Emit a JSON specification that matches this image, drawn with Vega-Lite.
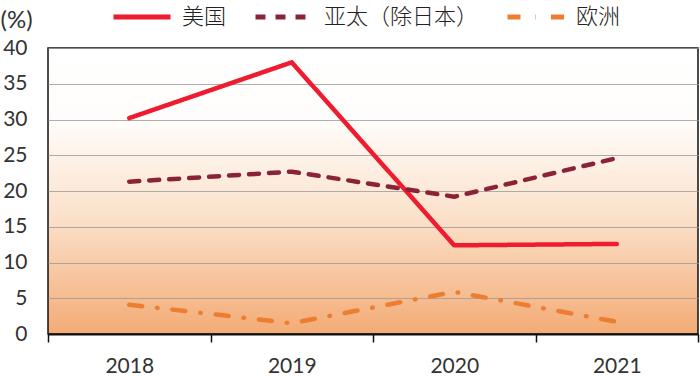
{
  "$schema": "https://vega.github.io/schema/vega-lite/v6.json",
  "width": 650,
  "height": 286,
  "autosize": "none",
  "padding": {"left": 48, "top": 48, "right": 2, "bottom": 42},
  "background": "white",
  "config": {
    "font": "Lato",
    "view": {
      "stroke": "#111",
      "strokeWidth": 1.5,
      "fill": {"gradient": "linear", "x1": 0, "y1": 0, "x2": 0, "y2": 1,
        "stops": [
          {"offset": 0, "color": "#ffffff"},
          {"offset": 0.25, "color": "#fffdfb"},
          {"offset": 0.6, "color": "#fbe0c9"},
          {"offset": 1, "color": "#f3ab75"}
        ]}
    }
  },
  "data": {"values": [
    {"year": "2018", "region": "美国", "value": 30.2},
    {"year": "2019", "region": "美国", "value": 38.0},
    {"year": "2020", "region": "美国", "value": 12.4},
    {"year": "2021", "region": "美国", "value": 12.6},
    {"year": "2018", "region": "亚太（除日本）", "value": 21.3},
    {"year": "2019", "region": "亚太（除日本）", "value": 22.7},
    {"year": "2020", "region": "亚太（除日本）", "value": 19.2},
    {"year": "2021", "region": "亚太（除日本）", "value": 24.6},
    {"year": "2018", "region": "欧洲", "value": 4.1},
    {"year": "2019", "region": "欧洲", "value": 1.5},
    {"year": "2020", "region": "欧洲", "value": 5.9},
    {"year": "2021", "region": "欧洲", "value": 1.7}
  ]},
  "mark": {"type": "line", "strokeWidth": 4.5, "strokeCap": "round", "strokeJoin": "round"},
  "encoding": {
    "x": {
      "field": "year", "type": "ordinal",
      "scale": {"paddingInner": 0, "paddingOuter": 0},
      "axis": {
        "title": null, "labelAngle": 0, "tickBand": "extent",
        "domainColor": "#111", "domainWidth": 2,
        "tickColor": "#111", "tickWidth": 1.5, "tickSize": 8,
        "labelPadding": 13, "labelFontSize": 21, "labelColor": "#333",
        "labelFont": "Lato", "grid": false
      }
    },
    "y": {
      "field": "value", "type": "quantitative",
      "scale": {"domain": [0, 40], "nice": false},
      "axis": {
        "values": [0, 5, 10, 15, 20, 25, 30, 35, 40],
        "title": "(%)", "titleAngle": 0, "titleX": -48, "titleY": -28,
        "titleAlign": "left", "titleBaseline": "middle",
        "titleFontSize": 24, "titleFontWeight": "normal", "titleColor": "#333",
        "titleFont": "Lato",
        "domain": false, "ticks": false, "labelPadding": 21,
        "labelFontSize": 21, "labelColor": "#333", "labelFont": "Lato",
        "grid": true, "gridColor": "#9a9a9a", "gridWidth": 1, "gridOpacity": 0.8
      }
    },
    "color": {
      "field": "region", "type": "nominal",
      "scale": {"domain": ["美国", "亚太（除日本）", "欧洲"], "range": ["#ee1c2e", "#8b2338", "#ed7d31"]},
      "legend": {
        "title": null, "orient": "none", "direction": "horizontal",
        "legendX": 63, "legendY": -62,
        "symbolType": "stroke", "symbolSize": 3249, "symbolStrokeWidth": 5,
        "labelFontSize": 22, "labelFont": "Noto Sans CJK SC", "labelFontWeight": 300, "labelColor": "#222",
        "labelOffset": 9, "columnPadding": 18, "labelLimit": 300, "padding": 0
      }
    },
    "strokeDash": {
      "field": "region", "type": "nominal",
      "scale": {"domain": ["美国", "亚太（除日本）", "欧洲"], "range": [[1, 0], [10, 10], [13, 15, 0.5, 15]]},
      "legend": {
        "title": null, "orient": "none", "direction": "horizontal",
        "legendX": 63, "legendY": -62,
        "symbolType": "stroke", "symbolSize": 3249, "symbolStrokeWidth": 5,
        "labelFontSize": 22, "labelFont": "Noto Sans CJK SC", "labelFontWeight": 300, "labelColor": "#222",
        "labelOffset": 9, "columnPadding": 18, "labelLimit": 300, "padding": 0
      }
    }
  }
}
